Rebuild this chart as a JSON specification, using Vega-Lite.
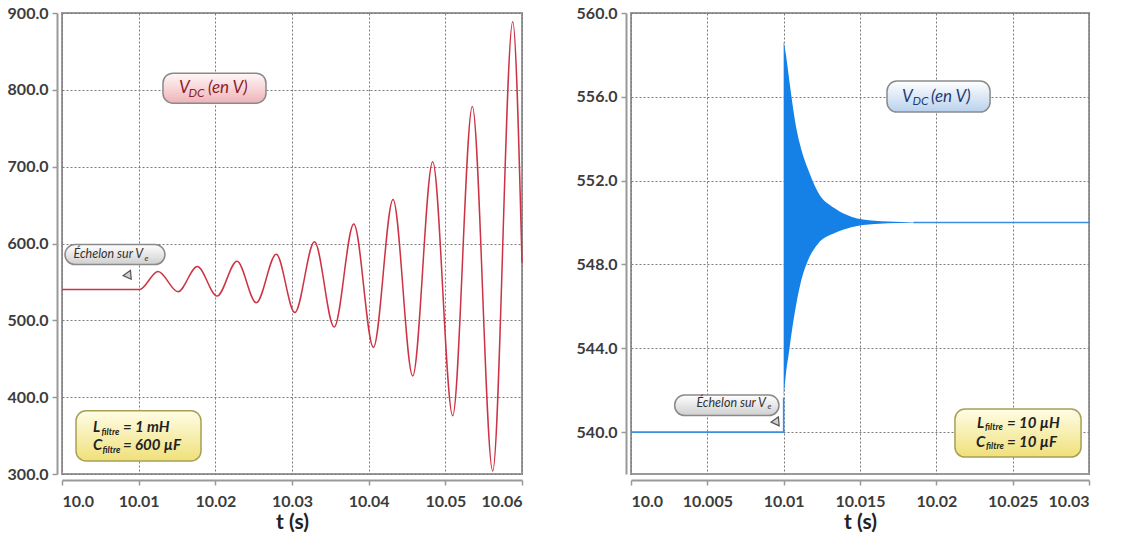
{
  "$schema": "https://vega.github.io/schema/vega-lite/v6.json",
  "background": "white",
  "padding": {"left": 6, "top": 4, "right": 5, "bottom": 4},
  "bounds": "flush",
  "spacing": 109,
  "config": {
    "view": {"stroke": "#9a9a9a", "strokeWidth": 2},
    "axis": {
      "labelFont": "Lato", "labelFontSize": 16, "labelFontWeight": "bold", "labelColor": "#3c3c3c",
      "domainColor": "#999", "domainWidth": 2, "tickColor": "#999", "tickWidth": 1.5, "tickSize": 5,
      "gridColor": "#7a7a7a", "gridDash": [2, 2], "gridWidth": 1,
      "titleFont": "Lato", "titleFontSize": 21, "titleFontWeight": "bold", "titleColor": "#222"
    }
  },
  "hconcat": [
    {
      "width": 460,
      "height": 461,
      "layer": [
        {
          "data": {"values": [
            {"t": 10.0, "v": 540}, {"t": 10.0101, "v": 540}, {"t": 10.01253, "v": 563.6},
            {"t": 10.01514, "v": 537.3}, {"t": 10.01765, "v": 570.2}, {"t": 10.02022, "v": 531.6},
            {"t": 10.02283, "v": 577}, {"t": 10.02534, "v": 522.8}, {"t": 10.02795, "v": 586},
            {"t": 10.03037, "v": 510.1}, {"t": 10.03293, "v": 602.2}, {"t": 10.0355, "v": 491.2},
            {"t": 10.03806, "v": 625.4}, {"t": 10.04062, "v": 464.9}, {"t": 10.04318, "v": 657.3},
            {"t": 10.04575, "v": 427.6}, {"t": 10.04835, "v": 706.3}, {"t": 10.05096, "v": 375.9},
            {"t": 10.05352, "v": 778.4}, {"t": 10.05618, "v": 303.9}, {"t": 10.05879, "v": 888.6},
            {"t": 10.06, "v": 575}
          ]},
          "mark": {"type": "line", "interpolate": "monotone", "color": "#cc3344", "strokeWidth": 1.5},
          "encoding": {
            "x": {"field": "t", "type": "quantitative",
              "scale": {"domain": [10.0, 10.06], "nice": false, "zero": false},
              "axis": {"title": "t (s)", "values": [10.0, 10.01, 10.02, 10.03, 10.04, 10.05, 10.06],
                "labelExpr": "datum.value == 10 ? '10.0' : format(datum.value, '.2~f')",
                "offset": 6, "labelPadding": 8, "titlePadding": 2}},
            "y": {"field": "v", "type": "quantitative",
              "scale": {"domain": [300, 900], "nice": false, "zero": false},
              "axis": {"title": null, "values": [300, 400, 500, 600, 700, 800, 900], "format": ".1f",
                "offset": 5, "labelPadding": 4}}
          }
        },
        {
          "data": {"values": [
            {"t": 10.01317, "t2": 10.02661, "v": 821.7, "v2": 782.6},
            {"t": 10.00039, "t2": 10.01343, "v": 598.7, "v2": 572.6},
            {"t": 10.00183, "t2": 10.01813, "v": 382.2, "v2": 317.0}
          ]},
          "mark": {"type": "rect", "cornerRadius": 10, "fill": "#000", "opacity": 0.22, "xOffset": 2, "yOffset": 2},
          "encoding": {
            "x": {"field": "t", "type": "quantitative"}, "x2": {"field": "t2"},
            "y": {"field": "v", "type": "quantitative"}, "y2": {"field": "v2"}
          }
        },
        {
          "data": {"values": [{"t": 10.01317, "t2": 10.02661, "v": 821.7, "v2": 782.6}]},
          "mark": {"type": "rect", "cornerRadius": 10, "stroke": "#8a8a8a", "strokeWidth": 1.5,
            "fill": {"gradient": "linear", "x1": 0, "y1": 0, "x2": 0, "y2": 1,
              "stops": [{"offset": 0, "color": "#fff8f8"}, {"offset": 1, "color": "#eeb3b8"}]}},
          "encoding": {
            "x": {"field": "t", "type": "quantitative"}, "x2": {"field": "t2"},
            "y": {"field": "v", "type": "quantitative"}, "y2": {"field": "v2"}
          }
        },
        {
          "data": {"values": [{"t": 10.00039, "t2": 10.01343, "v": 598.7, "v2": 572.6}]},
          "mark": {"type": "rect", "cornerRadius": 10, "stroke": "#8a8a8a", "strokeWidth": 1.5,
            "fill": {"gradient": "linear", "x1": 0, "y1": 0, "x2": 0, "y2": 1,
              "stops": [{"offset": 0, "color": "#ffffff"}, {"offset": 1, "color": "#cfcfcf"}]}},
          "encoding": {
            "x": {"field": "t", "type": "quantitative"}, "x2": {"field": "t2"},
            "y": {"field": "v", "type": "quantitative"}, "y2": {"field": "v2"}
          }
        },
        {
          "data": {"values": [{"t": 10.00183, "t2": 10.01813, "v": 382.2, "v2": 317.0}]},
          "mark": {"type": "rect", "cornerRadius": 10, "stroke": "#a89f55", "strokeWidth": 1.5,
            "fill": {"gradient": "linear", "x1": 0, "y1": 0, "x2": 0, "y2": 1,
              "stops": [{"offset": 0, "color": "#fffde6"}, {"offset": 1, "color": "#efe07a"}]}},
          "encoding": {
            "x": {"field": "t", "type": "quantitative"}, "x2": {"field": "t2"},
            "y": {"field": "v", "type": "quantitative"}, "y2": {"field": "v2"}
          }
        },
        {
          "data": {"values": [{"t": 10.00874, "v": 557.5}]},
          "mark": {"type": "point", "shape": "triangle-down", "filled": true, "fill": "#d0d0d0",
            "stroke": "#555", "strokeWidth": 1.2, "size": 80, "angle": -35, "opacity": 1},
          "encoding": {
            "x": {"field": "t", "type": "quantitative"},
            "y": {"field": "v", "type": "quantitative"}
          }
        },
        {
          "data": {"values": [{"t": 10.01526, "v": 802, "txt": "V"}, {"t": 10.01904, "v": 802, "txt": "(en V)"}]},
          "mark": {"type": "text", "align": "left", "baseline": "middle", "font": "Lato", "fontStyle": "italic",
            "fontSize": 17, "color": "#8e1c2c"},
          "encoding": {
            "x": {"field": "t", "type": "quantitative"},
            "y": {"field": "v", "type": "quantitative"},
            "text": {"field": "txt"}
          }
        },
        {
          "data": {"values": [{"t": 10.0165, "v": 796, "txt": "DC"}]},
          "mark": {"type": "text", "align": "left", "baseline": "middle", "font": "Lato", "fontStyle": "italic",
            "fontSize": 12, "color": "#8e1c2c"},
          "encoding": {
            "x": {"field": "t", "type": "quantitative"},
            "y": {"field": "v", "type": "quantitative"},
            "text": {"field": "txt"}
          }
        },
        {
          "data": {"values": [{"t": 10.01057, "v": 585.7, "txt": "Échelon sur V"}]},
          "mark": {"type": "text", "align": "right", "baseline": "middle", "font": "Lato", "fontStyle": "italic",
            "fontSize": 12.5, "color": "#333"},
          "encoding": {
            "x": {"field": "t", "type": "quantitative"},
            "y": {"field": "v", "type": "quantitative"},
            "text": {"field": "txt"}
          }
        },
        {
          "data": {"values": [{"t": 10.01076, "v": 580.4, "txt": "e"}]},
          "mark": {"type": "text", "align": "left", "baseline": "middle", "font": "Lato", "fontStyle": "italic",
            "fontSize": 8, "color": "#333"},
          "encoding": {
            "x": {"field": "t", "type": "quantitative"},
            "y": {"field": "v", "type": "quantitative"},
            "text": {"field": "txt"}
          }
        },
        {
          "data": {"values": [
            {"t": 10.00404, "v": 361.3, "txt": "L"}, {"t": 10.00796, "v": 361.3, "txt": "= 1 mH"},
            {"t": 10.00404, "v": 337.8, "txt": "C"}, {"t": 10.00796, "v": 337.8, "txt": "= 600 µF"}
          ]},
          "mark": {"type": "text", "align": "left", "baseline": "middle", "font": "Lato", "fontStyle": "italic",
            "fontWeight": "bold", "fontSize": 15, "color": "#222"},
          "encoding": {
            "x": {"field": "t", "type": "quantitative"},
            "y": {"field": "v", "type": "quantitative"},
            "text": {"field": "txt"}
          }
        },
        {
          "data": {"values": [
            {"t": 10.00515, "v": 354.8, "txt": "filtre"}, {"t": 10.00528, "v": 331.3, "txt": "filtre"}
          ]},
          "mark": {"type": "text", "align": "left", "baseline": "middle", "font": "Lato", "fontStyle": "italic",
            "fontWeight": "bold", "fontSize": 9, "color": "#222"},
          "encoding": {
            "x": {"field": "t", "type": "quantitative"},
            "y": {"field": "v", "type": "quantitative"},
            "text": {"field": "txt"}
          }
        }
      ]
    },
    {
      "width": 458,
      "height": 461,
      "layer": [
        {
          "data": {"values": [
            {"t": 10.0, "v": 540, "seg": "a"}, {"t": 10.01, "v": 540, "seg": "a"}, {"t": 10.01, "v": 541.65, "seg": "a"},
            {"t": 10.0185, "v": 550, "seg": "b"}, {"t": 10.03, "v": 550, "seg": "b"}
          ]},
          "mark": {"type": "line", "color": "#3a8ee0", "strokeWidth": 1.6},
          "encoding": {
            "x": {"field": "t", "type": "quantitative",
              "scale": {"domain": [10.0, 10.03], "nice": false, "zero": false},
              "axis": {"title": "t (s)", "values": [10.0, 10.005, 10.01, 10.015, 10.02, 10.025, 10.03],
                "labelExpr": "datum.value == 10 ? '10.0' : format(datum.value, '.3~f')",
                "offset": 6, "labelPadding": 8, "titlePadding": 2}},
            "y": {"field": "v", "type": "quantitative",
              "scale": {"domain": [538, 560], "nice": false, "zero": false},
              "axis": {"title": null, "values": [540, 544, 548, 552, 556, 560], "format": ".1f",
                "offset": 5, "labelPadding": 4}},
            "detail": {"field": "seg"}
          }
        },
        {
          "data": {"values": [
            {"t": 10.01, "hi": 558.65, "lo": 541.65},
            {"t": 10.01017, "hi": 557.9, "lo": 542.93},
            {"t": 10.01033, "hi": 557.0, "lo": 543.73},
            {"t": 10.01054, "hi": 555.85, "lo": 544.84},
            {"t": 10.01083, "hi": 554.5, "lo": 546.12},
            {"t": 10.01115, "hi": 553.5, "lo": 547.23},
            {"t": 10.01159, "hi": 552.55, "lo": 548.19},
            {"t": 10.01225, "hi": 551.45, "lo": 548.99},
            {"t": 10.01334, "hi": 550.68, "lo": 549.5},
            {"t": 10.01443, "hi": 550.28, "lo": 549.78},
            {"t": 10.01596, "hi": 550.09, "lo": 549.93},
            {"t": 10.01771, "hi": 550.03, "lo": 549.98},
            {"t": 10.019, "hi": 550.0, "lo": 550.0}
          ]},
          "mark": {"type": "area", "interpolate": "monotone", "color": "#1580e6", "opacity": 1},
          "encoding": {
            "x": {"field": "t", "type": "quantitative"},
            "y": {"field": "hi", "type": "quantitative"},
            "y2": {"field": "lo"}
          }
        },
        {
          "data": {"values": [
            {"t": 10.01677, "t2": 10.02352, "v": 556.75, "v2": 555.27},
            {"t": 10.00286, "t2": 10.00969, "v": 541.77, "v2": 540.79},
            {"t": 10.02122, "t2": 10.02948, "v": 541.1, "v2": 538.81}
          ]},
          "mark": {"type": "rect", "cornerRadius": 10, "fill": "#000", "opacity": 0.22, "xOffset": 2, "yOffset": 2},
          "encoding": {
            "x": {"field": "t", "type": "quantitative"}, "x2": {"field": "t2"},
            "y": {"field": "v", "type": "quantitative"}, "y2": {"field": "v2"}
          }
        },
        {
          "data": {"values": [{"t": 10.01677, "t2": 10.02352, "v": 556.75, "v2": 555.27}]},
          "mark": {"type": "rect", "cornerRadius": 10, "stroke": "#8a8a8a", "strokeWidth": 1.5,
            "fill": {"gradient": "linear", "x1": 0, "y1": 0, "x2": 0, "y2": 1,
              "stops": [{"offset": 0, "color": "#ffffff"}, {"offset": 1, "color": "#b9d1ec"}]}},
          "encoding": {
            "x": {"field": "t", "type": "quantitative"}, "x2": {"field": "t2"},
            "y": {"field": "v", "type": "quantitative"}, "y2": {"field": "v2"}
          }
        },
        {
          "data": {"values": [{"t": 10.00286, "t2": 10.00969, "v": 541.77, "v2": 540.79}]},
          "mark": {"type": "rect", "cornerRadius": 10, "stroke": "#8a8a8a", "strokeWidth": 1.5,
            "fill": {"gradient": "linear", "x1": 0, "y1": 0, "x2": 0, "y2": 1,
              "stops": [{"offset": 0, "color": "#ffffff"}, {"offset": 1, "color": "#cfcfcf"}]}},
          "encoding": {
            "x": {"field": "t", "type": "quantitative"}, "x2": {"field": "t2"},
            "y": {"field": "v", "type": "quantitative"}, "y2": {"field": "v2"}
          }
        },
        {
          "data": {"values": [{"t": 10.02122, "t2": 10.02948, "v": 541.1, "v2": 538.81}]},
          "mark": {"type": "rect", "cornerRadius": 10, "stroke": "#a89f55", "strokeWidth": 1.5,
            "fill": {"gradient": "linear", "x1": 0, "y1": 0, "x2": 0, "y2": 1,
              "stops": [{"offset": 0, "color": "#fffde6"}, {"offset": 1, "color": "#efe07a"}]}},
          "encoding": {
            "x": {"field": "t", "type": "quantitative"}, "x2": {"field": "t2"},
            "y": {"field": "v", "type": "quantitative"}, "y2": {"field": "v2"}
          }
        },
        {
          "data": {"values": [{"t": 10.00956, "v": 540.45}]},
          "mark": {"type": "point", "shape": "triangle-down", "filled": true, "fill": "#d0d0d0",
            "stroke": "#555", "strokeWidth": 1.2, "size": 80, "angle": -35, "opacity": 1},
          "encoding": {
            "x": {"field": "t", "type": "quantitative"},
            "y": {"field": "v", "type": "quantitative"}
          }
        },
        {
          "data": {"values": [{"t": 10.01775, "v": 556.0, "txt": "V"}, {"t": 10.01965, "v": 556.0, "txt": "(en V)"}]},
          "mark": {"type": "text", "align": "left", "baseline": "middle", "font": "Lato", "fontStyle": "italic",
            "fontSize": 17, "color": "#1f3c78"},
          "encoding": {
            "x": {"field": "t", "type": "quantitative"},
            "y": {"field": "v", "type": "quantitative"},
            "text": {"field": "txt"}
          }
        },
        {
          "data": {"values": [{"t": 10.01844, "v": 555.78, "txt": "DC"}]},
          "mark": {"type": "text", "align": "left", "baseline": "middle", "font": "Lato", "fontStyle": "italic",
            "fontSize": 12, "color": "#1f3c78"},
          "encoding": {
            "x": {"field": "t", "type": "quantitative"},
            "y": {"field": "v", "type": "quantitative"},
            "text": {"field": "txt"}
          }
        },
        {
          "data": {"values": [{"t": 10.00884, "v": 541.38, "txt": "Échelon sur V"}]},
          "mark": {"type": "text", "align": "right", "baseline": "middle", "font": "Lato", "fontStyle": "italic",
            "fontSize": 12.5, "color": "#333"},
          "encoding": {
            "x": {"field": "t", "type": "quantitative"},
            "y": {"field": "v", "type": "quantitative"},
            "text": {"field": "txt"}
          }
        },
        {
          "data": {"values": [{"t": 10.00894, "v": 541.19, "txt": "e"}]},
          "mark": {"type": "text", "align": "left", "baseline": "middle", "font": "Lato", "fontStyle": "italic",
            "fontSize": 8, "color": "#333"},
          "encoding": {
            "x": {"field": "t", "type": "quantitative"},
            "y": {"field": "v", "type": "quantitative"},
            "text": {"field": "txt"}
          }
        },
        {
          "data": {"values": [
            {"t": 10.02266, "v": 540.43, "txt": "L"}, {"t": 10.02463, "v": 540.43, "txt": "= 10 µH"},
            {"t": 10.0226, "v": 539.52, "txt": "C"}, {"t": 10.02463, "v": 539.52, "txt": "= 10 µF"}
          ]},
          "mark": {"type": "text", "align": "left", "baseline": "middle", "font": "Lato", "fontStyle": "italic",
            "fontWeight": "bold", "fontSize": 15, "color": "#222"},
          "encoding": {
            "x": {"field": "t", "type": "quantitative"},
            "y": {"field": "v", "type": "quantitative"},
            "text": {"field": "txt"}
          }
        },
        {
          "data": {"values": [
            {"t": 10.02319, "v": 540.24, "txt": "filtre"}, {"t": 10.02325, "v": 539.33, "txt": "filtre"}
          ]},
          "mark": {"type": "text", "align": "left", "baseline": "middle", "font": "Lato", "fontStyle": "italic",
            "fontWeight": "bold", "fontSize": 9, "color": "#222"},
          "encoding": {
            "x": {"field": "t", "type": "quantitative"},
            "y": {"field": "v", "type": "quantitative"},
            "text": {"field": "txt"}
          }
        }
      ]
    }
  ]
}
